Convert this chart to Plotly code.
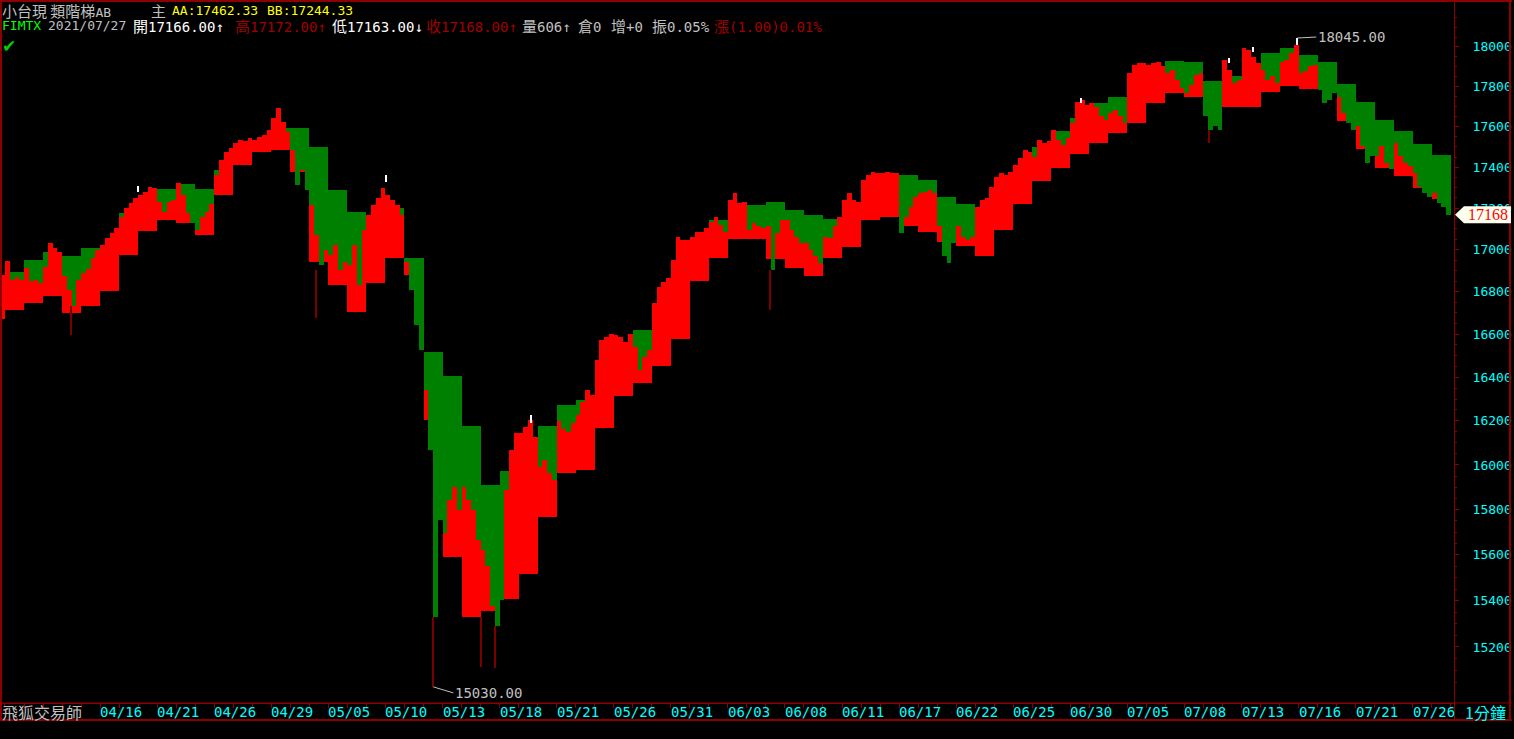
import math
import plotly.graph_objects as go

# ---------------- data ----------------
# x-axis date labels (one label every third trading day)
date_labels = ["04/16", "04/21", "04/26", "04/29", "05/05", "05/10", "05/13", "05/18",
               "05/21", "05/26", "05/31", "06/03", "06/08", "06/11", "06/17", "06/22",
               "06/25", "06/30", "07/05", "07/08", "07/13", "07/16", "07/21", "07/26"]
first_label_day = 5
n_days = 76  # day index 0..75 (plus a partial day -1 at the left edge)

# upper ladder level (AA) per day, day -1 .. 75
aa_level = [16860, 16895, 16952, 16990, 16971, 17009, 17000, 17178, 17250, 17294,
            17318, 17294, 17387, 17480, 17500, 17594, 17594, 17500, 17289, 17182,
            17150, 17202, 16962, 16518, 16406, 16176, 15910, 15973, 16000, 16176,
            16274, 16296, 16458, 16550, 16622, 16617, 16700, 17000, 17144, 17216,
            17216, 17228, 17192, 17168, 17147, 17200, 17300, 17340, 17362, 17338,
            17253, 17220, 17190, 17330, 17390, 17498, 17579, 17642, 17717, 17749,
            17830, 17880, 17929, 17924, 17829, 17851, 17900, 17968, 17993, 17960,
            17924, 17813, 17725, 17634, 17579, 17516, 17462.33]
# lower ladder level (BB) per day, day -1 .. 75
bb_level = [16670, 16714, 16746, 16778, 16702, 16735, 16805, 16976, 17090, 17144,
            17131, 17071, 17265, 17412, 17475, 17485, 17378, 16942, 16833, 16705,
            16843, 16962, 16881, 16205, 15590, 15330, 15357, 15408, 15517, 15767,
            15962, 15976, 16168, 16316, 16372, 16451, 16578, 16849, 16963, 17052,
            17052, 16955, 16915, 16873, 16963, 17013, 17144, 17157, 17112, 17087,
            17039, 17018, 16971, 17095, 17220, 17334, 17398, 17465, 17519, 17567,
            17618, 17720, 17766, 17749, 17654, 17700, 17697, 17771, 17803, 17787,
            17800, 17627, 17490, 17395, 17359, 17300, 17244.33]

# close price, one value for the tail of day -1 then four per day (day 0 .. 75)
price = [16880,
    16944, 16857, 16870, 16857,  16912, 16849, 16857, 16841,  16920, 17031, 17007, 16991,
    16873, 16810, 16732, 16857,  16890, 16908, 16960, 17000,  17023, 17055, 17079, 17103,
    17160, 17200, 17224, 17249,  17265, 17281, 17302, 17297,  17232, 17184, 17232, 17240,
    17321, 17265, 17176, 17128,  17095, 17160, 17184, 17220,  17362, 17436, 17475, 17495,
    17520, 17535, 17527, 17544,  17535, 17549, 17559, 17584,  17643, 17693, 17624, 17574,
    17485, 17314, 17387, 17289,  17216, 17071, 16928, 16999,  16975, 17023, 16904, 16942,
    16928, 17023, 16833, 17095,  17168, 17216, 17249, 17298,  17265, 17240, 17216, 17168,
    16942, 16810, 16645, 16527,  16342, 16068, 15330, 15754,  15696, 15843, 15903, 15799,
    15903, 15843, 15799, 15666,  15622, 15549, 15375, 15290,  15403, 15888, 16068, 16145,
    16145, 16172, 16204, 16127,  15991, 16023, 15964, 15933,  16200, 16165, 16150, 16190,
    16227, 16289, 16342, 16319,  16481, 16573, 16588, 16603,  16597, 16588, 16566, 16603,
    16541, 16434, 16496, 16527,  16746, 16824, 16848, 16865,  16952, 17063, 17047, 17047,
    17063, 17087, 17087, 17103,  17136, 17160, 17120, 17087,  17240, 17273, 17224, 17232,
    17095, 17128, 17112, 17103,  17112, 16904, 17079, 17144,  17144, 17095, 17063, 17031,
    17031, 16999, 16968, 16936,  17063, 17055, 17112, 17160,  17240, 17273, 17240, 17232,
    17338, 17362, 17378, 17370,  17370, 17378, 17370, 17370,  17079, 17160, 17208, 17257,
    17273, 17281, 17289, 17273,  17112, 16968, 16936, 17031,  17112, 17063, 17047, 17063,
    17208, 17240, 17249, 17305,  17354, 17370, 17362, 17378,  17412, 17446, 17485, 17475,
    17452, 17535, 17519, 17527,  17584, 17535, 17510, 17544,  17618, 17725, 17733, 17708,
    17717, 17700, 17651, 17634,  17667, 17683, 17651, 17618,  17866, 17909, 17918, 17918,
    17909, 17918, 17926, 17901,  17866, 17884, 17834, 17792,  17766, 17808, 17858, 17866,
    17651, 17584, 17601, 17584,  17934, 17884, 17816, 17834,  17993, 17985, 17951, 17918,
    17884, 17834, 17851, 17816,  17926, 17934, 17968, 18010,  17866, 17876, 17901, 17909,
    17782, 17717, 17733, 17766,  17749, 17667, 17618, 17584,  17601, 17502, 17422, 17454,
    17454, 17502, 17422, 17390,  17519, 17454, 17422, 17406,  17370, 17305, 17273, 17257,
    17273, 17224, 17208, 17168]

# long lower shadows (day position, bar price, low)
low_wick_day = [3.46, 16.33, 22.52, 25.04, 25.77, 40.21, 63.30]
low_wick_top = [16732, 16904, 15330, 15330, 15290, 16904, 17584]
low_wick_low = [16597, 16677, 15030, 15115, 15110, 16714, 17520]
# upper shadows (white)
high_wick_day = [7.0, 20.05, 27.66, 56.55, 64.35, 65.6, 67.93]
high_wick_bot = [17280, 17330, 16190, 17720, 17920, 17975, 18010]
high_wick_high = [17310, 17362, 16225, 17745, 17945, 18000, 18045]

y_ticks = list(range(15200, 18001, 200))
last_price = 17168
high_mark = 18045
high_mark_day = 67.93
low_mark = 15030
low_mark_day = 22.52

# ---------------- geometry of the plot area (pixels) ----------------
W, H = 1514, 739
PL, PR, PT, PB = 2, 1456, 3, 703


def px(x):
    return (x - PL) / (PR - PL)


def py(y):
    return (PB - y) / (PB - PT)


SPD = 4  # samples per day
xs = [-0.5 / SPD] + [d + (k + 0.5) / SPD for d in range(n_days) for k in range(SPD)]
aa_s = [aa_level[int(math.floor(x)) + 1] for x in xs]
bb_s = [bb_level[int(math.floor(x)) + 1] for x in xs]

red_h = [max(p - b, 0) for p, b in zip(price, bb_s)]
green_h = [max(a - p, 0) for p, a in zip(price, aa_s)]

DARKRED = "#8c0000"
CYAN = "#00ffff"
GRAY = "#c0c0c0"

fig = go.Figure()
fig.add_trace(go.Bar(x=xs, y=red_h, base=bb_s, width=1 / SPD, marker=dict(color="#ff0000", line=dict(width=0)),
                     hoverinfo="skip", showlegend=False))
fig.add_trace(go.Bar(x=xs, y=green_h, base=price, width=1 / SPD, marker=dict(color="#008000", line=dict(width=0)),
                     hoverinfo="skip", showlegend=False))
fig.add_trace(go.Bar(x=low_wick_day, y=[t - l for t, l in zip(low_wick_top, low_wick_low)], base=low_wick_low,
                     width=0.06, marker=dict(color="#7a0000", line=dict(width=0)), hoverinfo="skip", showlegend=False))
fig.add_trace(go.Bar(x=high_wick_day, y=[h - b for h, b in zip(high_wick_high, high_wick_bot)], base=high_wick_bot,
                     width=0.07, marker=dict(color="#ffffff", line=dict(width=0)), hoverinfo="skip", showlegend=False))

ymin, ymax = 14962, 18224
lmin, lmax = math.log10(ymin), math.log10(ymax)
minor_vals = [v for v in range(15000, 18201, 50) if v % 200 != 0]

fig.update_layout(
    width=W, height=H, barmode="overlay", bargap=0,
    paper_bgcolor="#000000", plot_bgcolor="#000000",
    margin=dict(l=PL, r=W - PR, t=PT, b=H - PB, pad=0),
    xaxis=dict(range=[-0.157, 76.17], showgrid=False, zeroline=False,
               tickmode="array", tickvals=list(range(0, n_days + 1)), showticklabels=False,
               ticks="outside", ticklen=4, tickcolor=DARKRED, tickwidth=1,
               showline=True, linecolor=DARKRED, linewidth=1, fixedrange=True),
    yaxis=dict(type="log", range=[lmin, lmax], side="right",
               showgrid=False, zeroline=False, tickmode="array", tickvals=y_ticks,
               ticktext=[str(v) for v in y_ticks],
               tickfont=dict(family="DejaVu Sans Mono", size=13, color=CYAN),
               ticks="outside", ticklen=4, tickcolor=DARKRED, tickwidth=1, ticklabelstandoff=11,
               minor=dict(tickmode="array", tickvals=minor_vals, ticks="outside", ticklen=2, tickcolor=DARKRED),
               showline=True, linecolor=DARKRED, linewidth=1, fixedrange=True),
)

# last-price flag (pentagon pointing left), vertical position from the price value
fy = (math.log10(last_price) - lmin) / (lmax - lmin)
fh = 8.5 / (PB - PT)
flag_path = (f"M {px(1457)} {fy} L {px(1466)} {fy + fh} L {px(1513)} {fy + fh} "
             f"L {px(1513)} {fy - fh} L {px(1466)} {fy - fh} Z")

shapes = [
    dict(type="line", xref="paper", yref="paper", x0=px(0), x1=px(W), y0=py(1), y1=py(1), line=dict(color=DARKRED, width=2)),
    dict(type="line", xref="paper", yref="paper", x0=px(0), x1=px(W), y0=py(720), y1=py(720), line=dict(color=DARKRED, width=2)),
    dict(type="line", xref="paper", yref="paper", x0=px(0), x1=px(W), y0=py(703), y1=py(703), line=dict(color=DARKRED, width=1)),
    dict(type="line", xref="paper", yref="paper", x0=px(1), x1=px(1), y0=py(0), y1=py(721), line=dict(color=DARKRED, width=2)),
    dict(type="line", xref="paper", yref="paper", x0=px(1512), x1=px(1512), y0=py(0), y1=py(721), line=dict(color=DARKRED, width=2)),
    dict(type="line", xref="paper", yref="paper", x0=px(1456.5), x1=px(1456.5), y0=py(0), y1=py(721), line=dict(color=DARKRED, width=1)),
    dict(type="path", xref="paper", yref="paper", path=flag_path, fillcolor="#fffff0", line=dict(width=0)),
]
fig.update_layout(shapes=shapes)

ann = []
MONO = "DejaVu Sans Mono"
CJK = "Noto Sans CJK TC"


def text(x, y, s, color, size=13, family=MONO, anchor="left"):
    ann.append(dict(xref="paper", yref="paper", x=px(x), y=py(y), text=s, showarrow=False,
                    xanchor=anchor, yanchor="middle", font=dict(family=family, size=size, color=color)))


def cj(ch, rest):
    return f"{ch}<span style='font-family:DejaVu Sans Mono;font-size:14px'>{rest}</span>"


# header line 1
text(0, 10, "小台現 類階梯<span style='font-family:DejaVu Sans Mono;font-size:13px'>AB</span>", GRAY, 15, CJK)
text(149, 10, "主", GRAY, 15, CJK)
text(170, 10, "AA:17462.33", "#ffff00", 13)
text(265, 10, "BB:17244.33", "#ffff00", 13)
# header line 2
text(0, 26, "FIMTX", "#00ff00", 13)
text(46, 26, "2021/07/27", GRAY, 13)
text(131, 26, cj("開", "17166.00↑"), "#ffffff", 15, CJK)
text(233, 26, cj("高", "17172.00↑"), "#a00000", 15, CJK)
text(330, 26, cj("低", "17163.00↓"), "#ffffff", 15, CJK)
text(425, 26, cj("收", "17168.00↑"), "#a00000", 15, CJK)
text(521, 26, cj("量", "606↑"), GRAY, 15, CJK)
text(577, 26, cj("倉", "0"), GRAY, 15, CJK)
text(610, 26, cj("增", "+0"), GRAY, 15, CJK)
text(651, 26, cj("振", "0.05%"), GRAY, 15, CJK)
text(713, 26, cj("漲", "(1.00)0.01%"), "#a00000", 15, CJK)
# check mark
text(0, 46, "✔", "#00d000", 17, "DejaVu Sans")
# bottom band
text(0, 712, "飛狐交易師", GRAY, 16, CJK)
text(1465, 712, "1分鐘", CYAN, 16, CJK)

# date labels on day boundaries
for i, lab in enumerate(date_labels):
    d = first_label_day + 3 * i
    ann.append(dict(xref="x", yref="paper", x=d, y=py(712), text=lab, showarrow=False,
                    xanchor="left", yanchor="middle", xshift=-2,
                    font=dict(family=MONO, size=14, color=CYAN)))

# high / low markers
ann.append(dict(xref="x", yref="y", x=high_mark_day, y=math.log10(high_mark), text=f"{high_mark:.2f}",
                showarrow=True, arrowhead=0, arrowwidth=1, arrowcolor=GRAY, ax=19, ay=-1,
                xanchor="left", yanchor="middle", standoff=0,
                font=dict(family=MONO, size=14, color=GRAY)))
ann.append(dict(xref="x", yref="y", x=low_mark_day, y=math.log10(low_mark), text=f"{low_mark:.2f}",
                showarrow=True, arrowhead=0, arrowwidth=1, arrowcolor=GRAY, ax=20, ay=6,
                xanchor="left", yanchor="middle", standoff=0,
                font=dict(family=MONO, size=14, color=GRAY)))

# last price text inside the flag
ann.append(dict(xref="paper", yref="y", x=px(1468), y=math.log10(last_price), text=str(last_price),
                showarrow=False, xanchor="left", yanchor="middle",
                font=dict(family="Liberation Serif", size=16, color="#ff0000")))

fig.update_layout(annotations=ann)

fig.write_html("out.html", config={"displayModeBar": False},
               post_script="document.body.style.margin='0';document.body.style.overflow='hidden';")
